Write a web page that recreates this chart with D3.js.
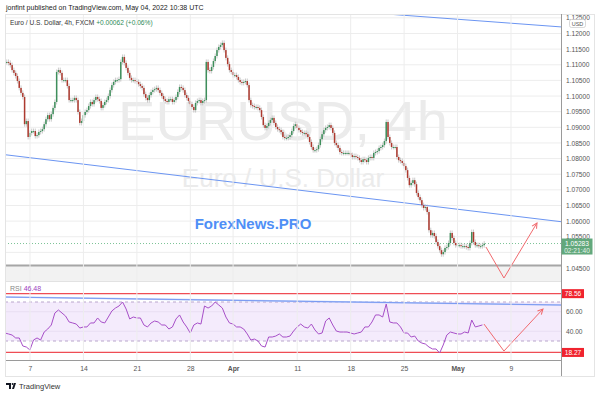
<!DOCTYPE html>
<html>
<head>
<meta charset="utf-8">
<script src="https://cdn.jsdelivr.net/npm/d3@7"></script>
<style>
  body { margin: 0; background: #fff; }
  svg text { font-family: "Liberation Sans", Arial, sans-serif; }
</style>
</head>
<body>
<svg id="chart" width="600" height="395"></svg>
<script>
// 4h closes, EURUSD (first bar ~ Mar 3, last bar May 4 08:00)
const closes = [
  1.1109,1.1109,1.1106,1.1099,1.1083,1.1074,1.1064,1.1048,1.1026,1.1010,
  1.0997,1.0910,1.0920,1.0869,1.0882,1.0888,1.0888,1.0872,1.0875,1.0885,
  1.0888,1.0894,1.0910,1.0926,1.0939,1.0926,1.0942,1.0962,1.0981,1.1077,
  1.1083,1.1074,1.1051,1.1051,1.1051,1.1032,1.0987,1.0987,1.0987,1.0994,
  1.0987,1.0949,1.0914,1.0920,1.0939,1.0949,1.0955,1.0968,1.0981,1.0974,
  1.0987,1.0997,1.0990,1.0984,1.0962,1.0971,1.0981,1.0987,1.1000,1.1019,
  1.1035,1.1045,1.1051,1.1051,1.1054,1.1109,1.1125,1.1106,1.1090,1.1074,
  1.1058,1.1051,1.1051,1.1048,1.1045,1.1038,1.1032,1.1026,1.1006,1.0994,
  1.0987,1.1003,1.1013,1.1019,1.1022,1.1026,1.1019,1.1010,1.1000,1.0990,
  1.0984,1.0981,1.0990,1.0990,1.0981,1.0987,1.0997,1.1013,1.1029,1.1026,
  1.1019,1.1003,1.0994,1.0984,1.0974,1.0965,1.0955,1.0978,1.0984,1.0987,
  1.0978,1.0984,1.0987,1.1109,1.1083,1.1080,1.1093,1.1112,1.1128,1.1147,
  1.1157,1.1163,1.1170,1.1147,1.1122,1.1102,1.1083,1.1077,1.1067,1.1067,
  1.1061,1.1051,1.1045,1.1042,1.1045,1.1048,1.1035,1.0987,1.0971,1.0968,
  1.0965,1.0965,1.0962,1.0955,1.0933,1.0907,1.0898,1.0904,1.0914,1.0923,
  1.0930,1.0914,1.0901,1.0894,1.0891,1.0885,1.0869,1.0866,1.0866,1.0869,
  1.0875,1.0888,1.0904,1.0910,1.0898,1.0891,1.0885,1.0882,1.0882,1.0878,
  1.0869,1.0853,1.0837,1.0827,1.0827,1.0830,1.0843,1.0862,1.0878,1.0891,
  1.0898,1.0901,1.0907,1.0898,1.0882,1.0850,1.0843,1.0834,1.0821,1.0818,
  1.0818,1.0818,1.0818,1.0818,1.0811,1.0805,1.0808,1.0805,1.0802,1.0795,
  1.0789,1.0798,1.0795,1.0789,1.0802,1.0805,1.0802,1.0818,1.0821,1.0824,
  1.0834,1.0837,1.0843,1.0856,1.0917,1.0869,1.0850,1.0837,1.0837,1.0837,
  1.0805,1.0795,1.0792,1.0786,1.0776,1.0763,1.0738,1.0715,1.0722,1.0731,
  1.0718,1.0690,1.0677,1.0667,1.0651,1.0642,1.0645,1.0629,1.0571,1.0555,
  1.0562,1.0552,1.0533,1.0520,1.0507,1.0494,1.0501,1.0514,1.0517,1.0530,
  1.0562,1.0546,1.0530,1.0523,1.0523,1.0523,1.0520,1.0520,1.0520,1.0517,
  1.0514,1.0530,1.0565,1.0533,1.0523,1.0523,1.0520,1.0520,1.0523,1.0528
];
const firstOpen = 1.1112;
const firstBarDay = -2.34;   // trading-day index of first bar (0 = Mon Mar 7)
const barsPerDay = 6;

// RSI(14), one reading every 2 bars
const rsiValues = [
  38.2,37.2,36.1,33.1,33.1,24.9,23.8,20.8,31.0,33.1,
  31.0,39.2,42.3,46.4,58.7,61.8,58.7,55.6,49.5,48.5,
  47.4,43.3,44.4,44.4,48.5,48.5,53.6,49.5,48.5,54.6,
  60.8,63.8,65.9,70.0,62.8,52.6,54.6,53.6,53.6,46.4,
  44.4,48.5,50.5,49.5,46.4,46.4,42.3,44.4,52.6,56.7,
  49.5,44.4,38.2,46.4,48.5,47.4,65.9,63.8,65.9,70.0,
  66.9,63.8,54.6,48.5,47.4,44.4,44.4,42.3,37.2,31.0,
  32.0,30.0,24.9,23.8,34.1,34.1,35.1,37.2,34.1,34.1,
  35.1,40.2,44.4,47.4,44.4,43.3,47.4,41.3,37.2,38.2,
  50.5,53.6,46.4,40.2,39.2,39.2,39.2,38.2,37.2,38.2,
  39.2,44.4,44.4,49.5,56.7,56.7,54.6,67.9,49.5,48.5,
  48.5,44.4,38.2,38.2,34.1,35.1,30.0,27.9,26.9,23.8,
  21.8,21.8,17.7,25.9,36.1,39.2,38.2,37.2,37.2,39.2,
  38.2,51.5,44.4,45.4,46.5
];
const rsiStep = 2;

const timeTicks = [0, 5, 10, 15, 19, 25, 30, 35, 40, 45];
const timeLabels = ["7", "14", "21", "28", "Apr", "11", "18", "25", "May", "9"];
const monthLabels = ["Apr", "May"];
const priceTicks = [1.045, 1.05, 1.055, 1.06, 1.065, 1.07, 1.075, 1.08, 1.085,
                    1.09, 1.095, 1.1, 1.105, 1.11, 1.115, 1.12, 1.125];
const hiddenPriceLabels = [1.05];   // covered by the last-price box
const rsiTicks = [40, 60];
const rsiBand = [30, 70];
const rsiLevels = [78.56, 18.27];

// drawings: [tradingDay, value]
const trendLow = [[-2.5, 1.0813], [49.7, 1.0598]];
const trendHigh = [[33.5, 1.1262], [49.7, 1.1221]];
const rsiTrend = [[-2.5, 75.1], [49.7, 66.9]];
const forecastPrice = [[42.66, 1.0517], [44.34, 1.0418], [47.43, 1.0594]];
const forecastRsi = [[42.47, 47.4], [44.34, 19.7], [47.99, 62.8]];
const supportLevel = 1.0458;

const lastPrice = 1.05283, countdown = "02:21:40", lastRsi = "46.48";

// layout
const L = 5, R = 561, T = 14, mainB = 281, rsiT = 282, rsiB = 360, axisB = 376, frameR = 594;

const svg = d3.select("#chart");

let x = d3.scaleLinear().domain([0, 45]).range([30, 511]);
let y = d3.scaleLinear().domain([1.045, 1.12]).range([268, 33.5]);
let yr = d3.scaleLinear().domain([30, 70]).range([341, 302]);

let defs = svg.append("defs");
defs.append("clipPath").attr("id", "clipMain")
  .append("rect").attr("x", L).attr("y", T).attr("width", R - L).attr("height", mainB - T);
defs.append("clipPath").attr("id", "clipRsi")
  .append("rect").attr("x", L).attr("y", rsiT).attr("width", R - L).attr("height", rsiB - rsiT);
defs.append("marker").attr("id", "arrow")
  .attr("viewBox", "0 0 8 8").attr("refX", 7).attr("refY", 4)
  .attr("markerWidth", 7).attr("markerHeight", 7)
  .attr("markerUnits", "userSpaceOnUse").attr("orient", "auto")
  .append("path").attr("d", "M1,1 L7,4 L1,7")
  .attr("fill", "none").attr("stroke", "#f06a6e").attr("stroke-width", 1.2);

// header
svg.append("text").attr("x", 6).attr("y", 10)
  .style("font-size", "7px").style("fill", "#222")
  .text("jonfint published on TradingView.com, May 04, 2022 10:38 UTC");

// grid
let main = svg.append("g").attr("clip-path", "url(#clipMain)");
let rsiG = svg.append("g").attr("clip-path", "url(#clipRsi)");

svg.append("g").selectAll("line").data(timeTicks).join("line")
  .attr("x1", d => x(d)).attr("x2", d => x(d))
  .attr("y1", T).attr("y2", rsiB)
  .style("stroke", "#ededed").style("stroke-width", 1);

main.append("g").selectAll("line").data(priceTicks).join("line")
  .attr("x1", L).attr("x2", R)
  .attr("y1", d => y(d)).attr("y2", d => y(d))
  .style("stroke", "#ededed").style("stroke-width", 1);

// watermark
main.append("text").attr("x", (L + R) / 2).attr("y", 140)
  .attr("text-anchor", "middle")
  .style("font-size", "56px").style("fill", "#ebebeb")
  .text("EURUSD, 4h");
main.append("text").attr("x", (L + R) / 2).attr("y", 187)
  .attr("text-anchor", "middle")
  .style("font-size", "26px").style("fill", "#ebebeb")
  .text("Euro / U.S. Dollar");

// support band + line
main.append("rect")
  .attr("x", L).attr("y", y(supportLevel))
  .attr("width", R - L).attr("height", mainB - y(supportLevel))
  .style("fill", "#f2f2f2");
main.append("line")
  .attr("x1", L).attr("x2", R)
  .attr("y1", y(supportLevel)).attr("y2", y(supportLevel))
  .style("stroke", "#a6a6a6").style("stroke-width", 2);

// trend lines
let priceLine = d3.line().x(d => x(d[0])).y(d => y(d[1]));
[trendLow, trendHigh].forEach(t => {
  main.append("path").attr("d", priceLine(t))
    .style("fill", "none").style("stroke", "#6b95f2").style("stroke-width", 1);
});

// last price dotted line
main.append("line")
  .attr("x1", L).attr("x2", R)
  .attr("y1", y(lastPrice)).attr("y2", y(lastPrice))
  .style("stroke", "#7cc497").style("stroke-width", 1)
  .style("stroke-dasharray", "1,2");

// candles
let bars = closes.map((c, i) => ({
  day: firstBarDay + i / barsPerDay,
  open: i ? closes[i - 1] : firstOpen,
  close: c
}));

main.append("g").selectAll("line").data(bars).join("line")
  .attr("x1", d => x(d.day)).attr("x2", d => x(d.day))
  .attr("y1", d => y(Math.max(d.open, d.close)) - 2.5)
  .attr("y2", d => y(Math.min(d.open, d.close)) + 2.5)
  .style("stroke", "#b4b4b4").style("stroke-width", 0.7);

main.append("g").selectAll("rect").data(bars).join("rect")
  .attr("x", d => x(d.day) - 0.75)
  .attr("width", 1.5)
  .attr("y", d => y(Math.max(d.open, d.close)))
  .attr("height", d => Math.max(1, Math.abs(y(d.open) - y(d.close))))
  .style("fill", d => d.close >= d.open ? "#3f8f5c" : "#ad3a2f");

// forecast arrow
main.append("path").attr("d", priceLine(forecastPrice))
  .attr("marker-end", "url(#arrow)")
  .style("fill", "none").style("stroke", "#f06a6e").style("stroke-width", 1);

// watermark brand
main.append("text").attr("x", 253).attr("y", 229)
  .attr("text-anchor", "middle")
  .style("font-size", "15px").style("font-weight", "bold").style("fill", "#4f8ff6")
  .text("ForexNews.PRO");

// legend line
let legend = svg.append("text").attr("x", 10).attr("y", 25).style("font-size", "6.6px");
legend.append("tspan").style("fill", "#333").text("Euro / U.S. Dollar, 4h, FXCM ");
legend.append("tspan").style("fill", "#2e8b57").text(" +0.00062 (+0.06%)");

// RSI pane
rsiG.append("rect")
  .attr("x", L).attr("y", yr(rsiBand[1]))
  .attr("width", R - L).attr("height", yr(rsiBand[0]) - yr(rsiBand[1]))
  .style("fill", "#f4ebfc");
rsiG.append("g").selectAll("line").data(rsiTicks).join("line")
  .attr("x1", L).attr("x2", R)
  .attr("y1", d => yr(d)).attr("y2", d => yr(d))
  .style("stroke", "#e8def2").style("stroke-width", 1);
rsiG.append("g").selectAll("line").data(rsiBand).join("line")
  .attr("x1", L).attr("x2", R)
  .attr("y1", d => yr(d)).attr("y2", d => yr(d))
  .style("stroke", "#b9a6cc").style("stroke-width", 1)
  .style("stroke-dasharray", "3,3");
rsiG.append("g").selectAll("line").data(rsiLevels).join("line")
  .attr("x1", L).attr("x2", R)
  .attr("y1", d => yr(d)).attr("y2", d => yr(d))
  .style("stroke", "#ef4d55").style("stroke-width", 1.3);

let rsiLine = d3.line().x(d => x(d[0])).y(d => yr(d[1]));
rsiG.append("path").attr("d", rsiLine(rsiTrend))
  .style("fill", "none").style("stroke", "#b9c9f8").style("stroke-width", 1.6);
rsiG.append("path").attr("d", rsiLine(rsiTrend))
  .style("fill", "none").style("stroke", "#6a8ef0").style("stroke-width", 0.8);

rsiG.append("path")
  .attr("d", d3.line()
    .x((d, i) => x(firstBarDay + i * rsiStep / barsPerDay))
    .y(d => yr(d))(rsiValues))
  .style("fill", "none").style("stroke", "#a74fc8").style("stroke-width", 1);

rsiG.append("path").attr("d", rsiLine(forecastRsi))
  .attr("marker-end", "url(#arrow)")
  .style("fill", "none").style("stroke", "#f06a6e").style("stroke-width", 1);

let rsiLegend = svg.append("text").attr("x", 10).attr("y", 291).style("font-size", "7px");
rsiLegend.append("tspan").style("fill", "#888").text("RSI ");
rsiLegend.append("tspan").style("fill", "#9c3fc0").text(" " + lastRsi);

// pane separators / frame
svg.append("line").attr("x1", L).attr("x2", R).attr("y1", mainB + 0.5).attr("y2", mainB + 0.5)
  .style("stroke", "#e2e2e2");
svg.append("line").attr("x1", L).attr("x2", R).attr("y1", rsiB + 0.5).attr("y2", rsiB + 0.5)
  .style("stroke", "#9a9a9a");
svg.append("rect").attr("x", L + 0.5).attr("y", T + 0.5)
  .attr("width", frameR - L).attr("height", axisB - T)
  .style("fill", "none").style("stroke", "#e4e4e4");
svg.append("line").attr("x1", R + 0.5).attr("x2", R + 0.5).attr("y1", T).attr("y2", axisB)
  .style("stroke", "#9a9a9a");

// price axis
let yAxis = svg.append("g").attr("transform", `translate(${R},0)`)
  .call(d3.axisRight(y)
    .tickValues(priceTicks.filter(d => !hiddenPriceLabels.includes(d)))
    .tickSize(0).tickPadding(5)
    .tickFormat(d3.format(".5f")));
yAxis.select(".domain").remove();
yAxis.selectAll("text").style("font-size", "6.6px").style("fill", "#555")
  .style("font-family", "Liberation Sans, Arial, sans-serif");

// USD badge
svg.append("rect").attr("x", 569.5).attr("y", 19.5).attr("width", 16).attr("height", 8).attr("rx", 2)
  .style("fill", "#fff").style("stroke", "#c8c8c8").style("stroke-width", 0.7);
svg.append("text").attr("x", 577.5).attr("y", 25.8).attr("text-anchor", "middle")
  .style("font-size", "5.5px").style("fill", "#555").text("USD");

// last price box
svg.append("rect").attr("x", R + 0.5).attr("y", y(lastPrice) - 5)
  .attr("width", 31).attr("height", 16)
  .style("fill", "#62a87c");
svg.append("text").attr("x", R + 16).attr("y", y(lastPrice) + 2.3)
  .attr("text-anchor", "middle").style("font-size", "6.6px").style("fill", "#fff")
  .text(d3.format(".5f")(lastPrice));
svg.append("text").attr("x", R + 16).attr("y", y(lastPrice) + 9)
  .attr("text-anchor", "middle").style("font-size", "6.6px").style("fill", "#e6f3ea")
  .text(countdown);

// RSI axis
let rAxis = svg.append("g").attr("transform", `translate(${R},0)`)
  .call(d3.axisRight(yr).tickValues(rsiTicks).tickSize(0).tickPadding(5)
    .tickFormat(d3.format(".2f")));
rAxis.select(".domain").remove();
rAxis.selectAll("text").style("font-size", "6.6px").style("fill", "#555")
  .style("font-family", "Liberation Sans, Arial, sans-serif");

rsiLevels.forEach(v => {
  svg.append("rect").attr("x", R + 1).attr("y", yr(v) - 4.5)
    .attr("width", 22).attr("height", 9).style("fill", "#f0232e");
  svg.append("text").attr("x", R + 12).attr("y", yr(v) + 2.3)
    .attr("text-anchor", "middle").style("font-size", "6.6px").style("fill", "#fff")
    .text(d3.format(".2f")(v));
});

// time axis
let xAxis = svg.append("g").attr("transform", `translate(0,${rsiB})`)
  .call(d3.axisBottom(x).tickValues(timeTicks).tickSize(0).tickPadding(6)
    .tickFormat((d, i) => timeLabels[i]));
xAxis.select(".domain").remove();
xAxis.selectAll("text").style("font-size", "6.8px").style("fill", "#555")
  .style("font-family", "Liberation Sans, Arial, sans-serif")
  .style("font-weight", (d, i) => monthLabels.includes(timeLabels[i]) ? "bold" : "normal");

// footer logo
let logo = svg.append("g").attr("transform", "translate(6,383)");
logo.append("path").attr("d", "M0,0 H5 V6 H3 V2 H0 Z").style("fill", "#131722");
logo.append("circle").attr("cx", 6.6).attr("cy", 1).attr("r", 1).style("fill", "#131722");
logo.append("path").attr("d", "M8,0 H10 L8,6 H6 Z").style("fill", "#131722");
svg.append("text").attr("x", 19).attr("y", 389)
  .style("font-size", "7.5px").style("fill", "#333").text("TradingView");
</script>
</body>
</html>
